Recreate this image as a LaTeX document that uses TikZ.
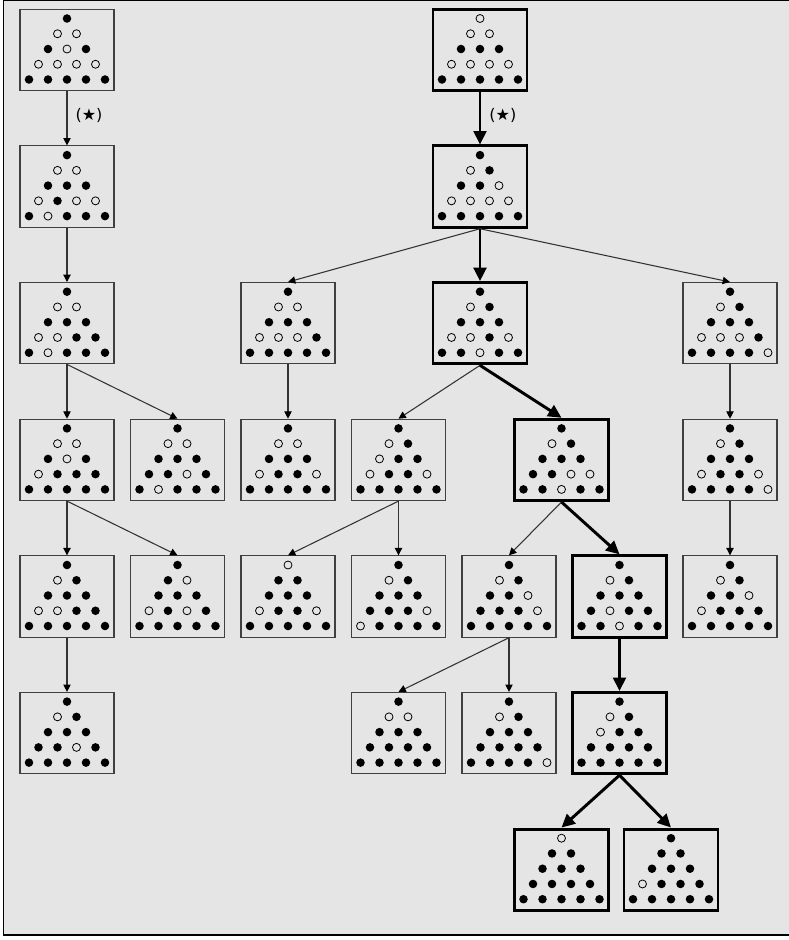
\documentclass[tikz,border=0pt]{standalone}
\usepackage{fontspec}
\newfontfamily\starfont{DejaVu Sans}
\usepackage{tikz}
\usetikzlibrary{arrows.meta}

\tikzset{
    board/.style={rectangle,draw=black!75,line width=0.8pt,minimum width=70.5pt,minimum height=61pt,inner sep=0pt},
    best/.style={draw=black,line width=2.2pt},
    edge/.style={draw=black!80,line width=0.8pt,-{Triangle[length=5.5pt,width=5.5pt,color=black]}},
    bestedge/.style={draw=black,line width=2.2pt,-{Triangle[length=10pt,width=9.5pt]}},
}

% board: name, x, y, style, pegs (1 = peg, 0 = hole)
\newcommand{\board}[5]{%
    \node[board,#4] (#1) at (#2,#3) {};
    \foreach \row/\col [count=\k from 0] in {0/0,1/0,1/1,2/0,2/1,2/2,3/0,3/1,3/2,3/3,4/0,4/1,4/2,4/3,4/4} {
        \pgfmathtruncatemacro{\peg}{{#5}[\k]}
        \ifnum\peg=1
            \fill ([shift={({(\col-\row/2)*19},{15.25*\row-31.5})}]#1.center) circle (3.2pt);
        \else
            \draw[line width=0.6pt] ([shift={({(\col-\row/2)*19},{15.25*\row-31.5})}]#1.center) circle (3pt);
        \fi
    }%
}

\begin{document}
\begin{tikzpicture}[x=0.75pt,y=-0.75pt]
    \useasboundingbox (0,0) rectangle (789,940);
    \draw[line width=1pt,fill=black!10] (3.5,0.5) rectangle (800,935);

    % Left sequence
    \board{l0}{67}{50}{}{1,0,0,1,0,1,0,0,0,0,1,1,1,1,1}
    \board{l1}{67}{186.6}{}{1,0,0,1,1,1,0,1,0,0,1,0,1,1,1}
    \board{l2}{67}{323.2}{}{1,0,0,1,1,1,0,0,1,1,1,0,1,1,1}
    \board{l3}{67}{459.9}{}{1,0,0,1,0,1,0,1,1,1,1,1,1,1,1}
    \board{l3x}{177.5}{459.9}{}{1,0,0,1,1,1,1,1,0,1,1,0,1,1,1}
    \board{l4}{67}{596.5}{}{1,0,1,1,1,1,0,0,1,1,1,1,1,1,1}
    \board{l4x}{177.5}{596.5}{}{1,1,0,1,1,1,0,1,0,1,1,1,1,1,1}
    \board{l5}{67}{733.1}{}{1,0,1,1,1,1,1,1,0,1,1,1,1,1,1}

    % Right tree
    \board{r0}{480}{50}{best}{0,0,0,1,1,1,0,0,0,0,1,1,1,1,1}
    \board{r1}{480}{186.6}{best}{1,0,1,1,1,0,0,0,0,0,1,1,1,1,1}
    \board{r2a}{288}{323.2}{}{1,0,0,1,1,1,0,0,0,1,1,1,1,1,1}
    \board{r2b}{480}{323.2}{best}{1,0,1,1,1,1,0,0,1,0,1,1,0,1,1}
    \board{r2c}{730}{323.2}{}{1,0,1,1,1,1,0,0,0,1,1,1,1,1,0}
    \board{r3a}{288}{459.9}{}{1,0,0,1,1,1,0,1,1,0,1,1,1,1,1}
    \board{r3b}{398.5}{459.9}{}{1,0,1,0,1,1,0,1,1,0,1,1,1,1,1}
    \board{r3c}{561.5}{459.9}{best}{1,0,1,1,1,1,1,1,0,0,1,1,0,1,1}
    \board{r3d}{730}{459.9}{}{1,0,1,1,1,1,0,1,1,0,1,1,1,1,0}
    \board{r4a}{288}{596.5}{}{0,1,1,1,1,1,0,1,1,0,1,1,1,1,1}
    \board{r4b}{398.5}{596.5}{}{1,0,1,1,1,1,1,1,1,0,0,1,1,1,1}
    \board{r4c}{509}{596.5}{}{1,0,1,1,1,0,1,1,1,0,1,1,1,1,1}
    \board{r4d}{619.5}{596.5}{best}{1,0,1,1,1,1,1,0,1,1,1,1,0,1,1}
    \board{r4e}{730}{596.5}{}{1,0,1,1,1,0,0,1,1,1,1,1,1,1,1}
    \board{r5a}{398.5}{733.1}{}{1,0,0,1,1,1,1,1,1,1,1,1,1,1,1}
    \board{r5b}{509}{733.1}{}{1,0,1,1,1,1,1,1,1,1,1,1,1,1,0}
    \board{r5c}{619.5}{733.1}{best}{1,0,1,0,1,1,1,1,1,1,1,1,1,1,1}
    \board{r6a}{561.5}{869.7}{best}{0,1,1,1,1,1,1,1,1,1,1,1,1,1,1}
    \board{r6b}{671}{869.7}{best}{1,1,1,1,1,1,0,1,1,1,1,1,1,1,1}

    % Moves
    \draw[edge] (l0.south) -- node[right,inner sep=0pt,xshift=6pt,yshift=2pt,font=\starfont\large] (star1) {(★)} (l1.north);
    \draw[bestedge] (r0.south) -- node[right,inner sep=0pt,xshift=6pt,yshift=2pt,font=\starfont\large] (star2) {(★)} (r1.north);
    \foreach \a/\b in {l1/l2,l2/l3,l2/l3x,l3/l4,l3/l4x,l4/l5,
                       r1/r2a,r1/r2c,r2a/r3a,r2b/r3b,r2c/r3d,r3b/r4a,r3b/r4b,
                       r3c/r4c,r3d/r4e,r4c/r5a,r4c/r5b} {
        \draw[edge] (\a.south) -- (\b.north);
    }

    % Best line
    \foreach \a/\b in {r1/r2b,r2b/r3c,r3c/r4d,r4d/r5c,r5c/r6a,r5c/r6b} {
        \draw[bestedge] (\a.south) -- (\b.north);
    }
\end{tikzpicture}
\end{document}
